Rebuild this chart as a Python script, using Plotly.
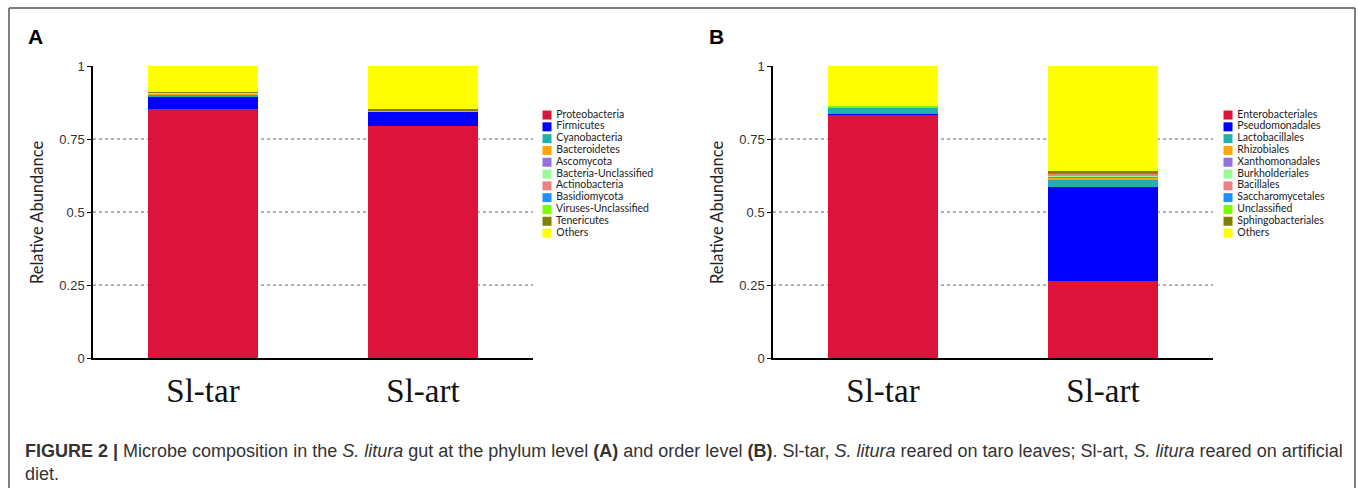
import plotly.graph_objects as go

W, H = 1358, 488
# empirical vertical calibration of the rendered page
Y_OFF, Y_SCALE = 7.0, 0.969

samples = ["Sl-tar", "Sl-art"]

phylum_names = ["Proteobacteria", "Firmicutes", "Cyanobacteria", "Bacteroidetes", "Ascomycota",
                "Bacteria-Unclassified", "Actinobacteria", "Basidiomycota", "Viruses-Unclassified",
                "Tenericutes", "Others"]
phylum_sl_tar = [0.854, 0.042, 0.006, 0.003, 0.001, 0.002, 0.001, 0.001, 0.0005, 0.0005, 0.089]
phylum_sl_art = [0.795, 0.048, 0.001, 0.002, 0.0005, 0.0005, 0.0005, 0.0005, 0.0005, 0.004, 0.1475]

order_names = ["Enterobacteriales", "Pseudomonadales", "Lactobacillales", "Rhizobiales", "Xanthomonadales",
               "Burkholderiales", "Bacillales", "Saccharomycetales", "Unclassified", "Sphingobacteriales",
               "Others"]
order_sl_tar = [0.833, 0.004, 0.022, 0.001, 0.0005, 0.0005, 0.001, 0.001, 0.0005, 0.0005, 0.136]
order_sl_art = [0.264, 0.322, 0.023, 0.008, 0.005, 0.004, 0.005, 0.003, 0.003, 0.003, 0.360]

colors = ["#DC143C", "#0000FF", "#20B2AA", "#FFA500", "#9370DB", "#98FB98",
          "#F08080", "#1E90FF", "#7CFC00", "#808000", "#FFFF00"]

y_tickvals = [0, 0.25, 0.5, 0.75, 1]
y_ticktext = ["0", "0.25", "0.5", "0.75", "1"]
grid_vals = [0.25, 0.5, 0.75]


def px(x):
    return x / W


def py(y):
    return 1 - (y - Y_OFF) / (Y_SCALE * H)


fig = go.Figure()

# stacked bars
for i, name in enumerate(phylum_names):
    fig.add_trace(go.Bar(x=samples, y=[phylum_sl_tar[i], phylum_sl_art[i]], name=name,
                         marker=dict(color=colors[i], line=dict(width=0)), width=0.5,
                         xaxis="x", yaxis="y", showlegend=False))
for i, name in enumerate(order_names):
    fig.add_trace(go.Bar(x=samples, y=[order_sl_tar[i], order_sl_art[i]], name=name,
                         marker=dict(color=colors[i], line=dict(width=0)), width=0.5,
                         xaxis="x2", yaxis="y2", showlegend=False))

# custom compact legends on a pixel overlay axis
leg_font = dict(family="Lato, Liberation Sans, sans-serif", size=10.5, color="#222")
for names, x0 in [(phylum_names, 547), (order_names, 1228)]:
    ys = [115 + k * 11.8 for k in range(len(names))]
    fig.add_trace(go.Scatter(x=[x0] * len(names), y=ys, mode="markers+text",
                             marker=dict(symbol="square", size=9, color=colors, line=dict(width=0)),
                             text=[" " + n for n in names], textposition="middle right",
                             textfont=leg_font, xaxis="x3", yaxis="y3",
                             hoverinfo="skip", showlegend=False, cliponaxis=False))

ydom = [py(358), py(66)]
axis_common = dict(showline=True, linecolor="black", linewidth=1.5, showgrid=False, zeroline=False)
cat_font = dict(family="Liberation Serif, Times New Roman, serif", size=33, color="#111")
ytick_font = dict(family="Liberation Sans, Arial, sans-serif", size=13, color="#333")

fig.update_layout(
    autosize=True,
    margin=dict(l=0, r=0, t=0, b=0, pad=0),
    paper_bgcolor="white", plot_bgcolor="rgba(0,0,0,0)",
    barmode="stack",
    xaxis=dict(domain=[px(93), px(533)], range=[-0.5, 1.5], ticks="", tickfont=cat_font,
               ticklabelstandoff=3, **axis_common),
    yaxis=dict(domain=ydom, range=[0, 1], tickvals=y_tickvals, ticktext=y_ticktext,
               ticks="outside", ticklen=4, tickcolor="black", tickfont=ytick_font, **axis_common),
    xaxis2=dict(domain=[px(773), px(1213)], range=[-0.5, 1.5], ticks="", tickfont=cat_font,
                ticklabelstandoff=3, anchor="y2", **axis_common),
    yaxis2=dict(domain=ydom, range=[0, 1], tickvals=y_tickvals, ticktext=y_ticktext,
                ticks="outside", ticklen=4, tickcolor="black", anchor="x2", tickfont=ytick_font,
                **axis_common),
    xaxis3=dict(domain=[0, 1], range=[0, W], visible=False, fixedrange=True),
    yaxis3=dict(domain=[0, 1], range=[Y_OFF + Y_SCALE * H, Y_OFF], visible=False,
                fixedrange=True, anchor="x3"),
)

shapes = []
# dashed gridlines
for xr, yr in [("x", "y"), ("x2", "y2")]:
    for g in grid_vals:
        shapes.append(dict(type="line", xref=xr + " domain", yref=yr, x0=0, x1=1, y0=g, y1=g,
                           line=dict(color="#666", width=1, dash="3px,3px"), layer="below"))
# figure frame
frame = dict(color="#555", width=1.5)
shapes.append(dict(type="line", xref="paper", yref="paper", x0=px(9), x1=px(1355), y0=py(8), y1=py(8), line=frame))
shapes.append(dict(type="line", xref="paper", yref="paper", x0=px(9), x1=px(9), y0=py(8), y1=-0.2, line=frame))
shapes.append(dict(type="line", xref="paper", yref="paper", x0=px(1355), x1=px(1355), y0=py(8), y1=-0.2, line=frame))
fig.update_layout(shapes=shapes)

ann = []
for lbl, x in [("A", 35), ("B", 716)]:
    ann.append(dict(text="<b>%s</b>" % lbl, x=px(x), y=py(36), xref="paper", yref="paper",
                    showarrow=False, xanchor="center", yanchor="middle",
                    font=dict(family="Liberation Sans, Arial, sans-serif", size=21, color="black")))
for x in [37, 717]:
    ann.append(dict(text="Relative Abundance", x=px(x), y=py(213), xref="paper", yref="paper",
                    textangle=-90, showarrow=False, xanchor="center", yanchor="middle",
                    font=dict(family="Lato, Liberation Sans, sans-serif", size=16.5, color="#222")))
cap_font = dict(family="Liberation Sans, Arial, sans-serif", size=18, color="#333")
line1 = ("<b>FIGURE 2 |</b> Microbe composition in the <i>S. litura</i> gut at the phylum level <b>(A)</b> "
         "and order level <b>(B)</b>. Sl-tar, <i>S. litura</i> reared on taro leaves; Sl-art, "
         "<i>S. litura</i> reared on artificial")
ann.append(dict(text=line1, x=px(23), y=py(451), xref="paper", yref="paper", showarrow=False,
                xanchor="left", yanchor="middle", font=cap_font))
ann.append(dict(text="diet.", x=px(23), y=py(474), xref="paper", yref="paper", showarrow=False,
                xanchor="left", yanchor="middle", font=cap_font))
fig.update_layout(annotations=ann)

post = ("document.documentElement.style.margin='0';document.documentElement.style.overflow='hidden';"
        "document.body.style.margin='0';document.body.style.overflow='hidden';"
        "var gd=document.getElementById('{plot_id}');gd.style.position='fixed';"
        "gd.style.top='0px';gd.style.left='0px';gd.style.width='100vw';gd.style.height='100vh';"
        "Plotly.Plots.resize(gd);")
fig.write_html("out.html", config={"displayModeBar": False, "responsive": True},
               default_width="100vw", default_height="100vh", post_script=post)
